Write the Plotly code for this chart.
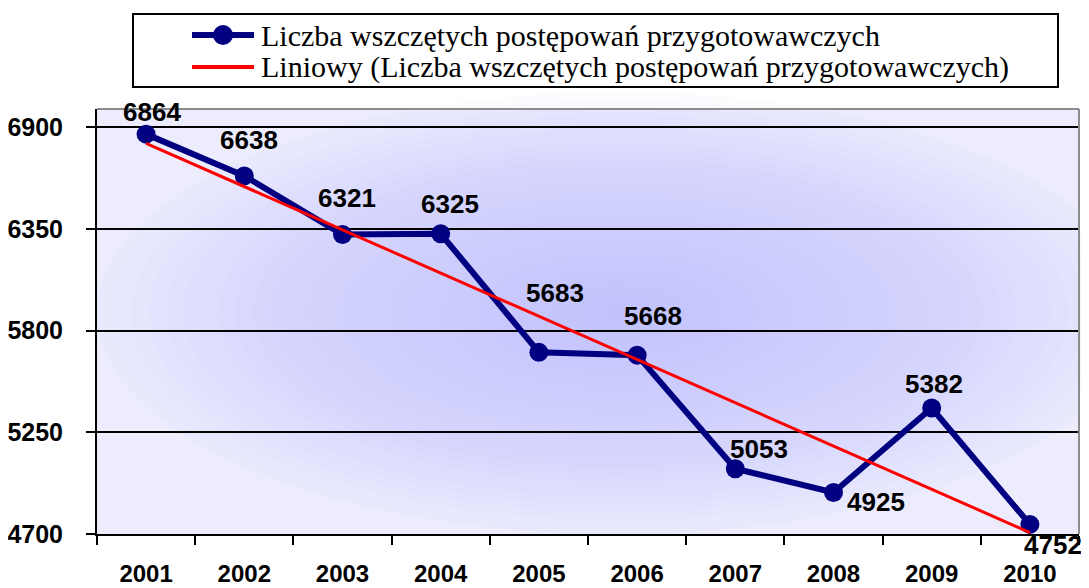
import numpy as np
import plotly.graph_objects as go

years = ["2001", "2002", "2003", "2004", "2005", "2006", "2007", "2008", "2009", "2010"]
values = [6864, 6638, 6321, 6325, 5683, 5668, 5053, 4925, 5382, 4752]
series_name = "Liczba wszczętych postępowań przygotowawczych"
trend_name = "Liniowy (Liczba wszczętych postępowań przygotowawczych)"
y_ticks = [4700, 5250, 5800, 6350, 6900]

# label offsets in pixels (dx, dy up) – styling only
label_offsets = [(6, 22), (5, 36), (4, 36), (9, 30), (16, 59),
                 (16, 39), (24, 20), (42, -10), (2, 24), (23, -21)]

# linear trend (least squares) from data
xi = np.arange(1, len(values) + 1)
slope, intercept = np.polyfit(xi, values, 1)
trend = slope * xi + intercept

# page body has an 8px margin, so the figure is shifted by 8px
OFF = 8
W, H = 1089 - OFF, 588 - OFF
ML, MR, MT, MB = 97 - OFF, 10, 109 - OFF, 54
PW, PH = W - ML - MR, H - MT - MB


def rx(px):  # reference-pixel x -> paper x
    return (px - OFF - ML) / PW


def ry(py):  # reference-pixel y -> paper y
    return (H - MB - (py - OFF)) / PH


fig = go.Figure()

# soft radial shading of plot area
n = 30
for i in range(n):
    f = 1 - i / n
    cx, cy = 0.53, 0.52
    hx, hy = 0.53 * f, 0.52 * f
    fig.add_shape(type="circle", xref="x domain", yref="y domain",
                  x0=cx - hx, x1=cx + hx, y0=cy - hy, y1=cy + hy,
                  fillcolor="rgba(192,192,248,0.047)", line_width=0, layer="below")

fig.add_trace(go.Scatter(
    x=list(range(len(years))), y=values, mode="lines+markers", name=series_name,
    line=dict(color="#000080", width=6),
    marker=dict(color="#000080", size=19),
    cliponaxis=False, showlegend=False,
))
fig.add_trace(go.Scatter(
    x=list(range(len(years))), y=trend, mode="lines", name=trend_name,
    line=dict(color="#FF0000", width=3),
    cliponaxis=False, showlegend=False,
))

for i, (v, (dx, dy)) in enumerate(zip(values, label_offsets)):
    fig.add_annotation(x=i, y=v, xref="x", yref="y", text=str(v), showarrow=False,
                       xshift=dx, yshift=dy,
                       font=dict(family="Liberation Sans", size=26, color="black",
                                 weight="bold"))

# gray top/right border of plot area
fig.add_shape(type="line", xref="x domain", yref="y domain", x0=0, x1=1, y0=1, y1=1,
              line=dict(color="#8c8c8c", width=2))
fig.add_shape(type="line", xref="x domain", yref="y domain", x0=1, x1=1, y0=0, y1=1,
              line=dict(color="#8c8c8c", width=2))

# legend (drawn manually)
fig.add_shape(type="rect", xref="paper", yref="paper",
              x0=rx(133), x1=rx(1058), y0=ry(87), y1=ry(14),
              line=dict(color="black", width=2), fillcolor="white")
legend_rows = [(series_name, 35, "#000080", 6, True), (trend_name, 67, "#FF0000", 4, False)]
for text, yrow, col, lw, mk in legend_rows:
    fig.add_shape(type="line", xref="paper", yref="paper",
                  x0=rx(192), x1=rx(254), y0=ry(yrow), y1=ry(yrow),
                  line=dict(color=col, width=lw))
    if mk:
        fig.add_shape(type="circle", xref="paper", yref="paper",
                      x0=rx(213), x1=rx(233), y0=ry(yrow + 10), y1=ry(yrow - 10),
                      fillcolor=col, line_width=0)
    fig.add_annotation(xref="paper", yref="paper", x=rx(259), y=ry(yrow),
                       xanchor="left", yanchor="middle", text=text, showarrow=False,
                       font=dict(family="Liberation Serif", size=30, color="black"))

fig.update_layout(
    width=W, height=H,
    margin=dict(l=ML, r=MR, t=MT, b=MB, autoexpand=False),
    paper_bgcolor="white",
    plot_bgcolor="#ECECFD",
    showlegend=False,
    xaxis=dict(
        type="category", range=[-0.5, 9.5],
        tickmode="array", tickvals=list(range(len(years))), ticktext=years,
        tickson="boundaries", ticks="outside", ticklen=9, tickwidth=2, tickcolor="black",
        showline=True, linecolor="black", linewidth=2,
        showgrid=False,
        tickfont=dict(family="Liberation Sans", size=24, color="black", weight="bold"),
        ticklabelstandoff=17,
    ),
    yaxis=dict(
        range=[4700, 7000], tickvals=y_ticks,
        ticks="outside", ticklen=9, tickwidth=2, tickcolor="black",
        showline=True, linecolor="black", linewidth=2,
        showgrid=True, gridcolor="black", gridwidth=1.5,
        zeroline=False,
        tickfont=dict(family="Liberation Sans", size=25, color="black", weight="bold"),
        ticklabelstandoff=18,
    ),
)

fig.write_html("out.html")
